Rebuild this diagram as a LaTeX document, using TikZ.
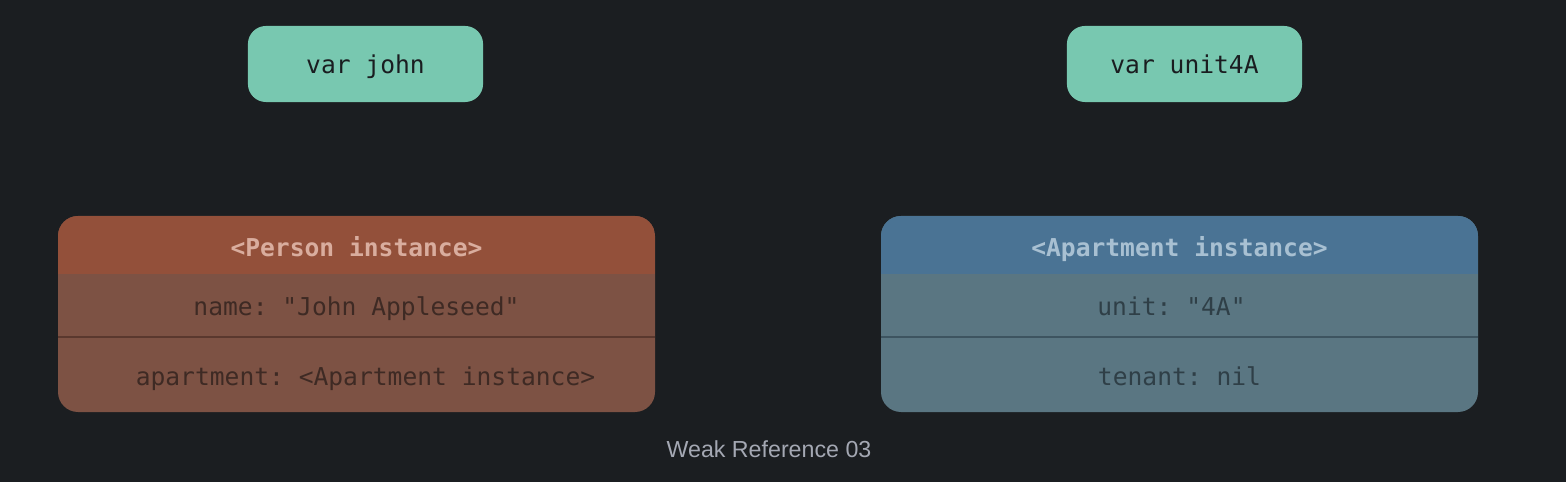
\documentclass[tikz,border=0pt]{standalone}
\usepackage{fontspec}
\setmonofont{DejaVu Sans Mono}
\setsansfont{Liberation Sans}
\usetikzlibrary{calc}

\definecolor{bgdark}{HTML}{1B1E21}
\definecolor{vargreen}{HTML}{78C8B0}
\definecolor{vartext}{HTML}{1A1D20}
\definecolor{personhead}{HTML}{93503A}
\definecolor{personbody}{HTML}{7D5244}
\definecolor{personline}{HTML}{5A382E}
\definecolor{personlight}{HTML}{D9AD9E}
\definecolor{persontext}{HTML}{3E2A24}
\definecolor{apthead}{HTML}{4A7394}
\definecolor{aptbody}{HTML}{5A7682}
\definecolor{aptline}{HTML}{3D5460}
\definecolor{aptlight}{HTML}{A8C0D2}
\definecolor{apttext}{HTML}{2F3F47}
\definecolor{captiongray}{HTML}{A4A8B3}

\begin{document}
\begin{tikzpicture}[x=0.01cm, y=-0.01cm,
	varbox/.style={fill=vargreen, rounded corners=0.18cm,
		minimum width=2.35cm, minimum height=0.76cm, inner sep=0pt},
	headtext/.style={anchor=base, font=\ttfamily\bfseries\fontsize{7}{8}\selectfont},
	fieldtext/.style={anchor=base, font=\ttfamily\fontsize{7}{8}\selectfont}]

	% canvas
	\useasboundingbox (0,0) rectangle (1566,482);
	\fill[bgdark] (0,0) rectangle (1566,482);

	% variables
	\node[varbox] (john) at (365.5,64) {};
	\node[varbox] (unit) at (1184.5,64) {};
	\node[fieldtext, text=vartext] (johnlbl) at (365.5,74) {var john};
	\node[fieldtext, text=vartext] (unitlbl) at (1184.5,74) {var unit4A};

	% Person instance
	\fill[personbody, rounded corners=0.2cm] (58,216) rectangle (655,412);
	\begin{scope}
		\clip[rounded corners=0.2cm] (58,216) rectangle (655,412);
		\fill[personhead] (58,216) rectangle (655,274);
	\end{scope}
	\draw[personline, line width=0.02cm] (58,337) -- (655,337);

	\node[headtext, text=personlight] (personhdr) at (356.5,257) {<Person instance>};
	\node[fieldtext, text=persontext] (personname) at (356.5,316) {name: "John Appleseed"};
	\node[fieldtext, text=persontext] (personapt) at (365.5,386) {apartment: <Apartment instance>};

	% Apartment instance
	\fill[aptbody, rounded corners=0.2cm] (881,216) rectangle (1478,412);
	\begin{scope}
		\clip[rounded corners=0.2cm] (881,216) rectangle (1478,412);
		\fill[apthead] (881,216) rectangle (1478,274);
	\end{scope}
	\draw[aptline, line width=0.02cm] (881,337) -- (1478,337);

	\node[headtext, text=aptlight] (apthdr) at (1179.5,257) {<Apartment instance>};
	\node[fieldtext, text=apttext] (aptunit) at (1171.5,316) {unit: "4A"};
	\node[fieldtext, text=apttext] (apttenant) at (1179.5,386) {tenant: nil};

	% caption
	\node[anchor=base, font=\sffamily\fontsize{6.6}{8}\selectfont, text=captiongray] (caption) at (769,457) {Weak Reference 03};

\end{tikzpicture}
\end{document}
